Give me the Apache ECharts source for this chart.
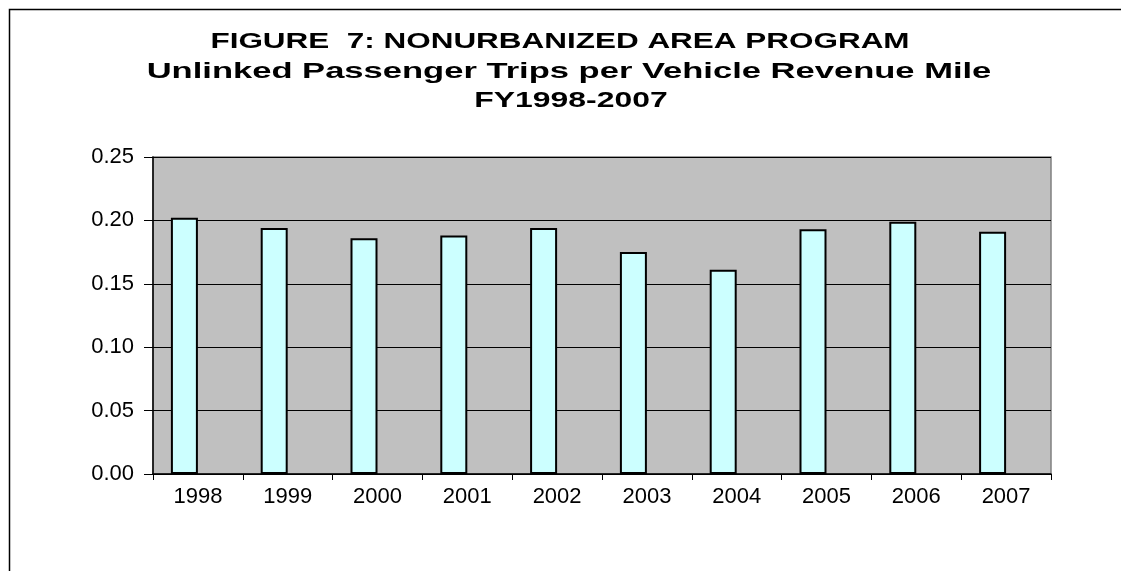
<!DOCTYPE html>
<html>
<head>
<meta charset="utf-8">
<script src="https://cdn.jsdelivr.net/npm/echarts@6/dist/echarts.min.js"></script>
<style>
html,body{margin:0;padding:0;background:#fff;}
#chart{width:1121px;height:571px;}
</style>
</head>
<body>
<div id="chart"></div>
<script>
const titleLines = ["FIGURE  7: NONURBANIZED AREA PROGRAM", "Unlinked Passenger Trips per Vehicle Revenue Mile", "FY1998-2007"];
const categories = ["1998", "1999", "2000", "2001", "2002", "2003", "2004", "2005", "2006", "2007"];
const tripsPerMile = [0.202, 0.194, 0.186, 0.188, 0.194, 0.175, 0.161, 0.193, 0.199, 0.191];
// the source chart reserves a second (empty) slot in each category cluster
const emptySlot = [null, null, null, null, null, null, null, null, null, null];
const yMin = 0, yMax = 0.25, yStep = 0.05;

const FONT = 'Liberation Sans, Arial, sans-serif';
const titleStyle = [
  {x: 560, y: 42, sx: 1.43},
  {x: 569, y: 72, sx: 1.57},
  {x: 571, y: 101, sx: 1.45}
];

const chart = echarts.init(document.getElementById('chart'), null, {renderer: 'canvas'});
chart.setOption({
  backgroundColor: '#ffffff',
  animation: false,
  graphic: [{
    type: 'rect',
    left: 7, top: 7,
    shape: {x: 0, y: 0, width: 1300, height: 800},
    style: {fill: 'none', stroke: '#000', lineWidth: 1.5},
    silent: true,
    z: -1
  }].concat(titleLines.map((t, i) => ({
    type: 'text',
    x: titleStyle[i].x,
    y: titleStyle[i].y,
    scaleX: titleStyle[i].sx,
    style: {
      text: t,
      textAlign: 'center',
      textVerticalAlign: 'middle',
      fontFamily: FONT,
      fontWeight: 'bold',
      fontSize: 22,
      fill: '#000'
    }
  }))),
  grid: {
    left: 153, right: 70, top: 157, bottom: 97,
    show: true,
    backgroundColor: '#C0C0C0',
    borderColor: '#808080',
    borderWidth: 1.5
  },
  xAxis: {
    type: 'category',
    data: categories,
    axisLine: {show: true, lineStyle: {color: '#000', width: 1.5}},
    axisTick: {show: true, alignWithLabel: false, length: 6, lineStyle: {color: '#000'}},
    axisLabel: {
      fontFamily: FONT,
      fontSize: 22,
      color: '#000',
      margin: 12
    }
  },
  yAxis: {
    type: 'value',
    min: yMin, max: yMax, interval: yStep,
    axisLine: {show: true, lineStyle: {color: '#000', width: 1.5}},
    axisTick: {show: true, inside: false, length: 9, lineStyle: {color: '#000'}},
    splitLine: {show: true, lineStyle: {color: '#000', width: 1}},
    axisLabel: {
      fontFamily: FONT,
      fontSize: 22,
      color: '#000',
      margin: 19,
      formatter: v => v.toFixed(2)
    }
  },
  series: [{
    type: 'bar',
    data: tripsPerMile,
    barWidth: 27,
    barGap: '0%',
    itemStyle: {color: '#CCFFFF', borderColor: '#000', borderWidth: 2}
  }, {
    type: 'bar',
    data: emptySlot,
    barWidth: 27,
    barGap: '0%',
    itemStyle: {color: '#CCFFFF', borderColor: '#000', borderWidth: 2}
  }]
});
</script>
</body>
</html>
